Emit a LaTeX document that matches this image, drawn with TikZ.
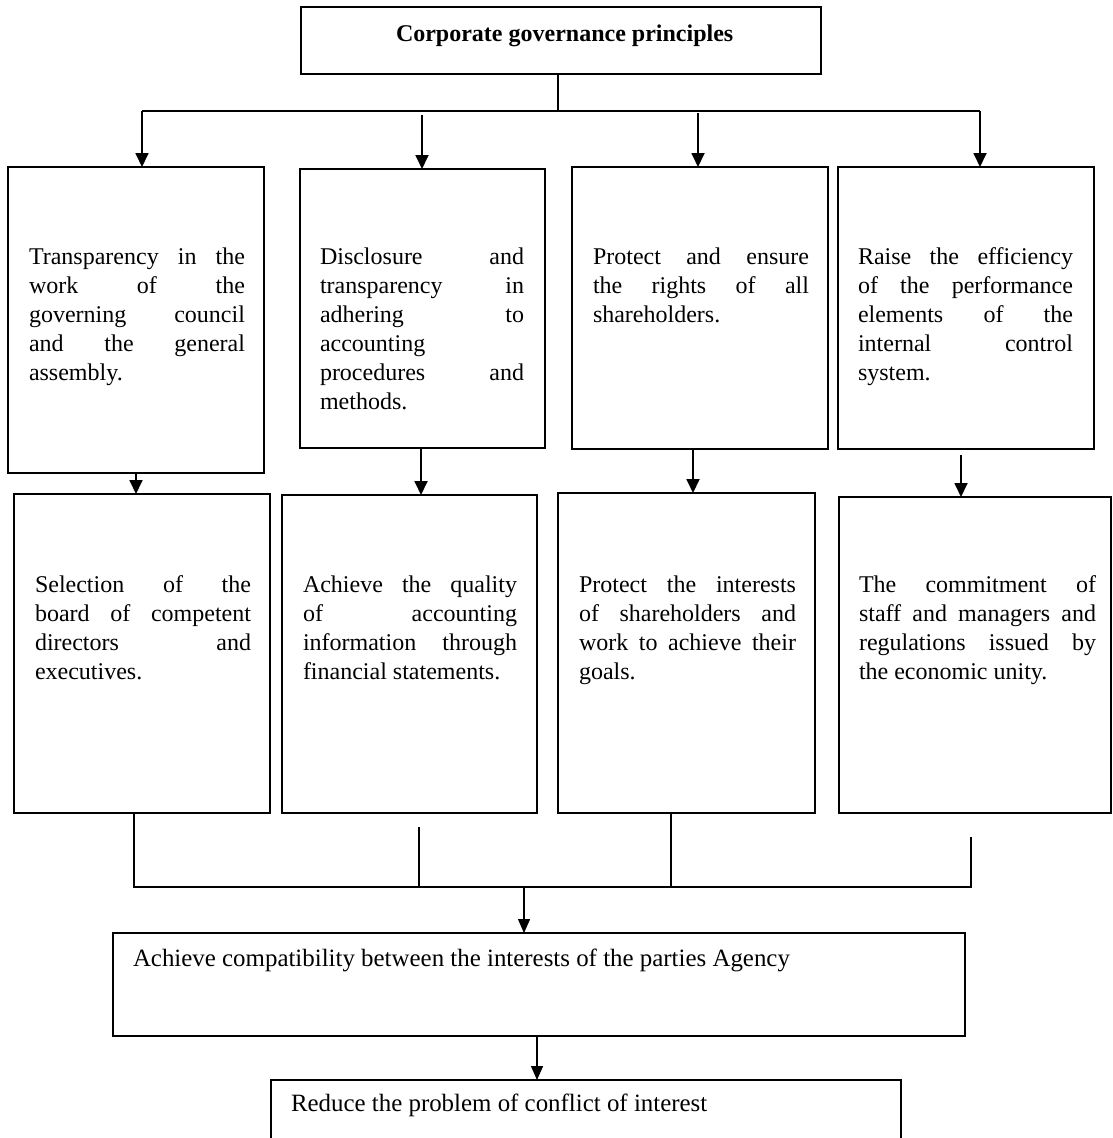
\documentclass[tikz,border=0pt]{standalone}
\usepackage{fontspec}
\setmainfont{Liberation Serif}
\usetikzlibrary{arrows.meta}
\newcommand\jl[1]{\makebox[\linewidth][s]{#1}\\}
\begin{document}
\begin{tikzpicture}[x=1pt,y=-1pt,
  box/.style={draw, line width=1.3pt, inner sep=0pt, outer sep=0pt, anchor=north west},
  arr/.style={line width=1.8pt, -{Triangle[width=13pt,length=14pt]}},
  thinarr/.style={line width=1.4pt, -{Triangle[width=12pt,length=14pt]}},
  link/.style={line width=1.3pt},
  txt/.style={anchor=base west, inner sep=0pt, outer sep=0pt, font=\fontsize{24}{29}\selectfont},
  widetxt/.style={txt, font=\fontsize{24.9}{29}\selectfont}]
\useasboundingbox (0,0) rectangle (1113,1138);
\clip (0,0) rectangle (1113,1138);

% boxes
\node[box, minimum width=520pt, minimum height=67pt] (top) at (301,7) {};
\node[box, minimum width=256pt, minimum height=306pt] (b1) at (8,167) {};
\node[box, minimum width=245pt, minimum height=279pt] (b2) at (300,169) {};
\node[box, minimum width=256pt, minimum height=282pt] (b3) at (572,167) {};
\node[box, minimum width=256pt, minimum height=282pt] (b4) at (838,167) {};
\node[box, minimum width=256pt, minimum height=319pt] (c1) at (14,494) {};
\node[box, minimum width=255pt, minimum height=318pt] (c2) at (282,495) {};
\node[box, minimum width=257pt, minimum height=320pt] (c3) at (558,493) {};
\node[box, minimum width=272pt, minimum height=316pt] (c4) at (839,497) {};
\node[box, minimum width=852pt, minimum height=103pt] (d) at (113,933) {};
\node[box, minimum width=630pt, minimum height=90pt] (e) at (271,1080) {};

% texts
\node[txt, font=\fontsize{24}{29}\selectfont\bfseries] (tt) at (396,41) {Corporate governance principles};
\node[txt] (t1) at (29,264) {\parbox[t]{216pt}{\jl{Transparency in the}\jl{work of the}\jl{governing council}\jl{and the general}assembly.}};
\node[txt] (t2) at (320,264) {\parbox[t]{204pt}{\jl{Disclosure and}\jl{transparency in}\jl{adhering to}accounting\\\jl{procedures and}methods.}};
\node[txt] (t3) at (593,264) {\parbox[t]{216pt}{\jl{Protect and ensure}\jl{the rights of all}shareholders.}};
\node[txt] (t4) at (858,264) {\parbox[t]{215pt}{\jl{Raise the efficiency}\jl{of the performance}\jl{elements of the}\jl{internal control}system.}};
\node[txt] (u1) at (35,592) {\parbox[t]{216pt}{\jl{Selection of the}\jl{board of competent}\jl{directors and}executives.}};
\node[txt] (u2) at (303,592) {\parbox[t]{214pt}{\jl{Achieve the quality}\jl{of accounting}\jl{information through}financial statements.}};
\node[txt] (u3) at (579,592) {\parbox[t]{217pt}{\jl{Protect the interests}\jl{of shareholders and}\jl{work to achieve their}goals.}};
\node[txt] (u4) at (859,592) {\parbox[t]{237pt}{\jl{The commitment of}\jl{staff and managers and}\jl{regulations issued by}the economic unity.}};
\node[widetxt] (td) at (133,966) {Achieve compatibility between the interests of the parties Agency};
\node[widetxt] (te) at (291,1111) {Reduce the problem of conflict of interest};

% top connectors
\coordinate (s1) at (558,111);
\coordinate (busL) at (142,111);
\coordinate (busR) at (980,111);
\coordinate (a2) at (422,115);
\coordinate (a3) at (698,113);
\draw[link] (top.south -| s1) -- (s1);
\draw[link] (busL) -- (busR);
\draw[arr] (busL) -- (b1.north -| busL);
\draw[arr] (a2) -- (b2.north -| a2);
\draw[arr] (a3) -- (b3.north -| a3);
\draw[arr] (busR) -- (b4.north -| busR);

% row connectors
\coordinate (r1) at (136,0);
\coordinate (r2) at (421,0);
\coordinate (r3) at (693,0);
\coordinate (r4) at (961,455);
\draw[arr] (b1.south -| r1) -- (c1.north -| r1);
\draw[arr] (b2.south -| r2) -- (c2.north -| r2);
\draw[arr] (b3.south -| r3) -- (c3.north -| r3);
\draw[arr] (r4) -- (c4.north -| r4);

% bottom connectors
\coordinate (m1) at (134,887);
\coordinate (m4) at (971,887);
\coordinate (q2) at (419,827);
\coordinate (q3) at (671,0);
\coordinate (q4) at (971,837);
\coordinate (m0) at (524,887);
\coordinate (n0) at (537,0);
\draw[link] (c1.south -| m1) -- (m1) -- (m4) -- (q4);
\draw[link] (q2) -- (q2 |- m1);
\draw[link] (c3.south -| q3) -- (q3 |- m1);
\draw[thinarr] (m0) -- (d.north -| m0);
\draw[thinarr] (d.south -| n0) -- (e.north -| n0);
\end{tikzpicture}
\end{document}
